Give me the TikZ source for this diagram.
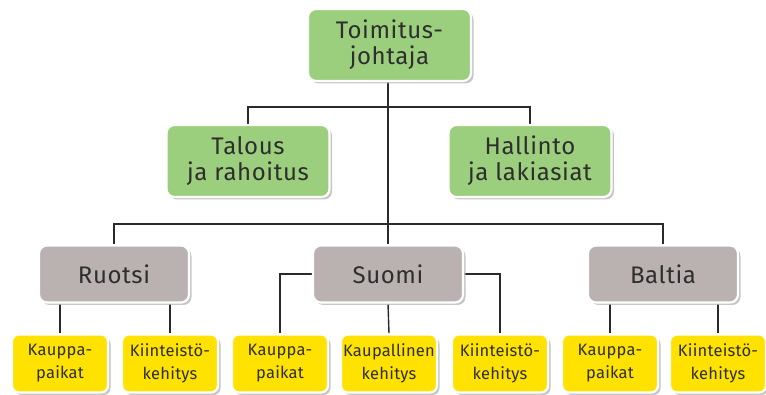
\documentclass[tikz,border=0pt]{standalone}
\usepackage{fontspec}
\setmainfont{Fira Sans}
\newfontfamily\bigfont[LetterSpace=2.5]{Fira Sans}
\newfontfamily\leaffont[LetterSpace=1.5]{Fira Sans}
\usetikzlibrary{shadows,backgrounds}
\definecolor{boxgreen}{HTML}{9CCF7D}
\definecolor{boxgrey}{HTML}{BAB2B0}
\definecolor{boxyellow}{HTML}{FFE200}
\definecolor{txt}{HTML}{2E2E2E}
\definecolor{ln}{HTML}{2A2A2A}
\begin{document}
\begin{tikzpicture}[x=1pt,y=-1pt,
  basebox/.style={draw=white,line width=2.2pt,rounded corners=8pt,align=center,
    text=txt,inner sep=0pt,
    drop shadow={shadow xshift=2.5pt,shadow yshift=-2.5pt,fill=black!28,opacity=0.8}},
  greenbox/.style={basebox,fill=boxgreen,minimum width=163pt,minimum height=72pt,
    font=\bigfont\fontsize{24}{26}\selectfont},
  greybox/.style={basebox,fill=boxgrey,minimum width=150pt,minimum height=57pt,
    font=\bigfont\fontsize{24}{26}\selectfont},
  leafbox/.style={basebox,fill=boxyellow,minimum width=96pt,minimum height=58pt,
    rounded corners=7pt,font=\leaffont\fontsize{16.5}{23}\selectfont},
  conn/.style={draw=ln,line width=1.4pt}]
\useasboundingbox (0,0) rectangle (766,395);
\node[greenbox] (top) at (389.5,45) {Toimitus-\\johtaja};
\node[greenbox] (talous) at (248,161) {Talous\\ja rahoitus};
\node[greenbox] (hallinto) at (530,161) {Hallinto\\ja lakiasiat};
\node[greybox] (ruotsi) at (114,274) {Ruotsi};
\node[greybox] (suomi) at (388,274) {Suomi};
\node[greybox] (baltia) at (663,274) {Baltia};
\node[leafbox] (r1) at (60,363.5) {Kauppa-\\paikat};
\node[leafbox] (r2) at (170,363.5) {Kiinteistö-\\kehitys};
\node[leafbox] (s1) at (280,363.5) {Kauppa-\\paikat};
\node[leafbox] (s2) at (389,363.5) {Kaupallinen\\kehitys};
\node[leafbox] (s3) at (500,363.5) {Kiinteistö-\\kehitys};
\node[leafbox] (b1) at (610,363.5) {Kauppa-\\paikat};
\node[leafbox] (b2) at (718,363.5) {Kiinteistö-\\kehitys};
\coordinate (j1) at (388,107);
\coordinate (j2) at (388,224);
\begin{scope}[on background layer]
\draw[conn] (top.south -| j1) -- (suomi.north -| j1);
\draw[conn] (talous.north) |- (j1) -| (hallinto.north);
\draw[conn] (ruotsi.north) |- (j2) -| (baltia.north);
\draw[conn] (r1.north) -- (r1.north |- ruotsi.south);
\draw[conn] (r2.north) -- (r2.north |- ruotsi.south);
\draw[conn] (b1.north) -- (b1.north |- baltia.south);
\draw[conn] (b2.north) -- (b2.north |- baltia.south);
\draw[conn] (suomi.west) -| (s1.north);
\draw[conn] (suomi.east) -| (s3.north);
\draw[conn] (suomi.south) -- (s2.north);
\end{scope}
\end{tikzpicture}
\end{document}
